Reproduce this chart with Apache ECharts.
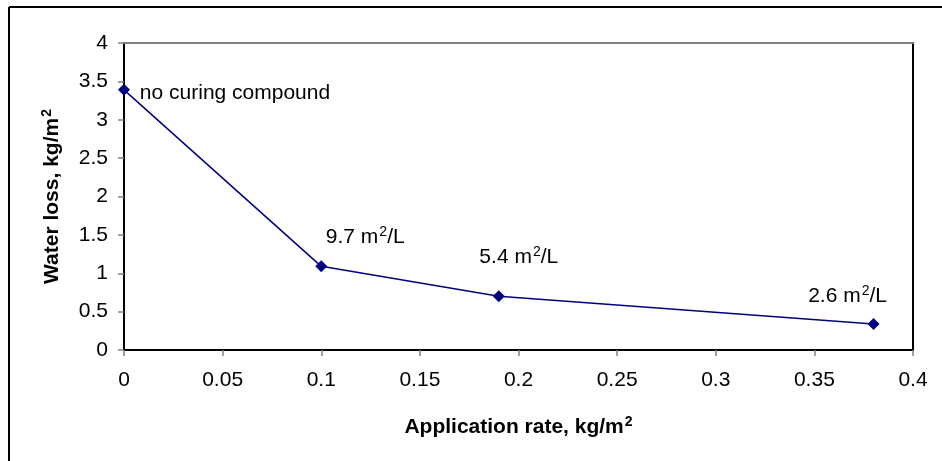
<!DOCTYPE html>
<html>
<head>
<meta charset="utf-8">
<script src="https://cdn.jsdelivr.net/npm/echarts@6/dist/echarts.min.js"></script>
<style>
  html, body { margin: 0; padding: 0; background: #fff; }
  #chart { width: 942px; height: 461px; }
</style>
</head>
<body>
<div id="chart"></div>
<script>
// application rate (kg/m2) and water loss (kg/m2)
var rates = [0, 0.1, 0.19, 0.38];
var waterLoss = [3.39, 1.09, 0.70, 0.34];
// point labels: text before the superscript, superscript, text after
var labelMain = ['no curing compound', '9.7 m', '5.4 m', '2.6 m'];
var labelSup = ['', '2', '2', '2'];
var labelTail = ['', '/L', '/L', '/L'];
// label centre relative to the point, px
var labelOffsets = [[111, 3], [44, -29], [20, -39], [-26, -28]];

var FONT = 'Liberation Sans, Arial, sans-serif';
var navy = '#000080';
var SYM = 12;

var points = rates.map(function (r, i) {
    var txt = '{b|' + labelMain[i] + '}';
    if (labelSup[i]) txt += '{s|' + labelSup[i] + '}{b|' + labelTail[i] + '}';
    return {
        value: [r, waterLoss[i]],
        label: {
            show: true,
            position: [SYM / 2 + labelOffsets[i][0], SYM / 2 + labelOffsets[i][1]],
            align: 'center',
            verticalAlign: 'middle',
            formatter: txt
        }
    };
});

var richText = {
    b: { fontFamily: FONT, fontSize: 21, color: '#000', lineHeight: 24 },
    s: { fontFamily: FONT, fontSize: 14, color: '#000', verticalAlign: 'top', lineHeight: 24, padding: [0, 0, 0, 1] }
};
var richBold = {
    t: { fontFamily: FONT, fontSize: 21, fontWeight: 'bold', color: '#000', lineHeight: 24 },
    s: { fontFamily: FONT, fontSize: 14, fontWeight: 'bold', color: '#000', verticalAlign: 'top', lineHeight: 24, padding: [0, 0, 0, 1] }
};

var option = {
    animation: false,
    backgroundColor: '#fff',
    grid: { left: 124, right: 29, top: 43, bottom: 111, containLabel: false },
    graphic: [
        // outer frame (top and left edges visible)
        { type: 'line', shape: { x1: 9, y1: 7, x2: 942, y2: 7 }, style: { stroke: '#000', lineWidth: 2 } },
        { type: 'line', shape: { x1: 9, y1: 7, x2: 9, y2: 461 }, style: { stroke: '#000', lineWidth: 2 } }
    ],
    xAxis: [{
        type: 'value',
        min: 0, max: 0.4, interval: 0.05,
        name: '{t|Application rate, kg/m}{s|2}',
        nameLocation: 'middle',
        nameGap: 65,
        nameTextStyle: { rich: richBold },
        axisLine: { onZero: false, lineStyle: { color: '#000', width: 2 } },
        axisTick: { show: true, length: 6, lineStyle: { color: '#808080', width: 1.5 } },
        axisLabel: { margin: 20, fontFamily: FONT, fontSize: 21, color: '#000' },
        splitLine: { show: false }
    }, {
        type: 'value',
        position: 'top',
        min: 0, max: 0.4,
        axisLine: { show: true, onZero: false, lineStyle: { color: '#808080', width: 2 } },
        axisTick: { show: false },
        axisLabel: { show: false },
        splitLine: { show: false }
    }],
    yAxis: [{
        type: 'value',
        min: 0, max: 4, interval: 0.5,
        name: '{t|Water loss, kg/m}{s|2}',
        nameLocation: 'middle',
        nameGap: 60,
        nameTextStyle: { rich: richBold },
        axisLine: { show: true, onZero: false, lineStyle: { color: '#000', width: 2 } },
        axisTick: { show: true, length: 6, lineStyle: { color: '#808080', width: 1.5 } },
        axisLabel: { margin: 16, fontFamily: FONT, fontSize: 21, color: '#000' },
        splitLine: { show: false }
    }, {
        type: 'value',
        position: 'right',
        min: 0, max: 4,
        axisLine: { show: true, onZero: false, lineStyle: { color: '#000', width: 2 } },
        axisTick: { show: false },
        axisLabel: { show: false },
        splitLine: { show: false }
    }],
    series: [{
        type: 'line',
        xAxisIndex: 0,
        yAxisIndex: 0,
        data: points,
        symbol: 'diamond',
        symbolSize: SYM,
        itemStyle: { color: navy },
        lineStyle: { color: navy, width: 1.5 },
        label: { rich: richText },
        labelLayout: { hideOverlap: false }
    }]
};

var myChart = echarts.init(document.getElementById('chart'));
myChart.setOption(option);
</script>
</body>
</html>
